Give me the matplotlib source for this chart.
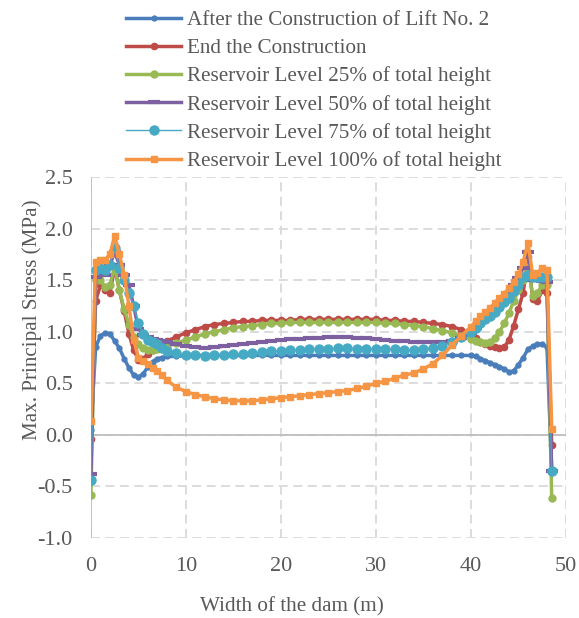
import matplotlib
matplotlib.use("Agg")
import matplotlib.pyplot as plt

plt.rcParams["font.family"] = ["Liberation Serif", "DejaVu Serif"]
plt.rcParams["axes.unicode_minus"] = False

# distance across the dam (m)
x = [0, 0.5, 1, 1.5, 2, 2.5, 3, 3.5, 4, 4.5, 5, 5.5, 6, 6.5, 7, 7.5, 8,
     9, 10, 11, 12, 13, 14, 15, 16, 17, 18, 19, 20, 21, 22, 23, 24,
     25, 26, 27, 28, 29, 30, 31, 32, 33, 34, 35, 36, 37, 38, 39,
     40, 40.5, 41, 41.5, 42, 42.5, 43, 43.5, 44, 44.5, 45, 45.5, 46,
     46.5, 47, 47.5, 48, 48.5]

lift2 = [0.05, 0.85, 0.96, 0.99, 0.98, 0.91, 0.84, 0.74, 0.65, 0.58, 0.56, 0.59, 0.66, 0.71, 0.74, 0.75, 0.76,
         0.76, 0.77, 0.77, 0.77, 0.77, 0.77, 0.77, 0.77, 0.77, 0.77, 0.77, 0.77, 0.77, 0.77, 0.77, 0.77,
         0.77, 0.77, 0.77, 0.77, 0.77, 0.77, 0.77, 0.77, 0.77, 0.77, 0.77, 0.77, 0.77, 0.77, 0.77,
         0.77, 0.76, 0.74, 0.72, 0.70, 0.68, 0.66, 0.64, 0.61, 0.62, 0.68, 0.75, 0.83,
         0.86, 0.88, 0.88, 0.85, -0.35]

end_constr = [-0.04, 1.30, 1.45, 1.40, 1.38, 1.62, 1.40, 1.20, 0.98, 0.82, 0.73, 0.74, 0.78, 0.82, 0.85, 0.88, 0.91,
              0.95, 0.99, 1.02, 1.05, 1.07, 1.08, 1.09, 1.10, 1.10, 1.11, 1.11, 1.11, 1.11, 1.12, 1.12, 1.12,
              1.12, 1.12, 1.12, 1.12, 1.12, 1.12, 1.11, 1.11, 1.10, 1.10, 1.09, 1.08, 1.07, 1.05, 1.02,
              0.98, 0.94, 0.90, 0.88, 0.86, 0.85, 0.84, 0.85, 0.92, 1.06, 1.22, 1.38, 1.72,
              1.32, 1.30, 1.40, 1.38, -0.10]

res25 = [-0.58, 1.50, 1.50, 1.43, 1.45, 1.63, 1.40, 1.22, 1.07, 0.95, 0.88, 0.84, 0.82, 0.82, 0.83, 0.84, 0.86,
         0.89, 0.92, 0.95, 0.98, 1.00, 1.02, 1.04, 1.05, 1.06, 1.07, 1.08, 1.08, 1.09, 1.09, 1.09, 1.09,
         1.09, 1.09, 1.09, 1.09, 1.09, 1.09, 1.08, 1.08, 1.07, 1.06, 1.05, 1.03, 1.01, 0.99, 0.96,
         0.93, 0.91, 0.90, 0.89, 0.90, 0.94, 1.00, 1.08, 1.18, 1.30, 1.40, 1.50, 1.63,
         1.35, 1.38, 1.45, 1.45, -0.61]

res50 = [-0.38, 1.53, 1.55, 1.55, 1.65, 1.77, 1.65, 1.55, 1.45, 1.25, 1.03, 0.97, 0.95, 0.93, 0.92, 0.91, 0.90,
         0.88, 0.86, 0.85, 0.84, 0.85, 0.86, 0.87, 0.88, 0.89, 0.90, 0.91, 0.92, 0.93, 0.93, 0.94, 0.94,
         0.95, 0.95, 0.95, 0.94, 0.94, 0.93, 0.92, 0.91, 0.91, 0.90, 0.90, 0.90, 0.90, 0.91, 0.94,
         0.99, 1.04, 1.09, 1.14, 1.18, 1.22, 1.27, 1.32, 1.38, 1.45, 1.52, 1.62, 1.77,
         1.50, 1.50, 1.49, 1.48, -0.35]

res75 = [-0.44, 1.60, 1.62, 1.60, 1.65, 1.81, 1.62, 1.50, 1.38, 1.25, 1.08, 0.98, 0.92, 0.90, 0.88, 0.84, 0.81,
         0.79, 0.77, 0.77, 0.76, 0.77, 0.77, 0.78, 0.78, 0.79, 0.80, 0.81, 0.81, 0.82, 0.82, 0.83, 0.83,
         0.83, 0.84, 0.84, 0.83, 0.83, 0.83, 0.83, 0.83, 0.82, 0.82, 0.83, 0.84, 0.86, 0.90, 0.95,
         1.00, 1.04, 1.08, 1.12, 1.15, 1.19, 1.24, 1.29, 1.33, 1.39, 1.45, 1.53, 1.55,
         1.53, 1.53, 1.53, 1.53, -0.35]

res100 = [0.13, 1.68, 1.70, 1.70, 1.75, 1.93, 1.75, 1.55, 1.25, 0.92, 0.75, 0.72, 0.69, 0.65, 0.62, 0.58, 0.53,
          0.46, 0.42, 0.39, 0.37, 0.35, 0.34, 0.33, 0.33, 0.33, 0.34, 0.35, 0.36, 0.37, 0.38, 0.39, 0.40,
          0.41, 0.42, 0.43, 0.45, 0.47, 0.50, 0.52, 0.55, 0.58, 0.60, 0.64, 0.69, 0.77, 0.87, 0.96,
          1.05, 1.10, 1.15, 1.19, 1.23, 1.28, 1.33, 1.37, 1.42, 1.48, 1.56, 1.68, 1.86,
          1.55, 1.57, 1.62, 1.60, 0.06]

fig = plt.figure(figsize=(5.79, 6.18), dpi=100)
ax = fig.add_axes([0.157, 0.1294, 0.8205, 0.5842])

ax.plot(x, lift2, color="#4A7EBB", lw=2.5, marker="o", ms=3.5,
        label="After the Construction of Lift No. 2")
ax.plot(x, end_constr, color="#BE4B48", lw=2.5, marker="o", ms=4.5,
        label="End the Construction")
ax.plot(x, res25, color="#98B954", lw=2.5, marker="o", ms=5,
        label="Reservoir Level 25% of total height")
ax.plot(x, res50, color="#7D60A0", lw=2.5, marker="_", ms=9, mew=3,
        label="Reservoir Level 50% of total height")
ax.plot(x, res75, color="#46AAC5", lw=1, marker="o", ms=6.5,
        label="Reservoir Level 75% of total height")
ax.plot(x, res100, color="#F69544", lw=2.5, marker="s", ms=4,
        label="Reservoir Level 100% of total height")

ax.set_xlim(0, 50)
ax.set_ylim(-1.0, 2.5)
ax.set_xticks([0, 10, 20, 30, 40, 50])
ax.set_yticks([-1.0, -0.5, 0.0, 0.5, 1.0, 1.5, 2.0, 2.5])
ax.set_yticklabels(["%.1f" % v for v in ax.get_yticks()])
ax.tick_params(length=0, labelsize=16, colors="#595959")
ax.tick_params(axis="x", pad=14)
ax.tick_params(axis="y", pad=13)
for s in ax.spines.values():
    s.set_visible(False)
ax.grid(True, color="#d9d9d9", ls=(0, (5, 3)), lw=1.3, zorder=0)
ax.set_axisbelow(True)
ax.axhline(0, color="#bfbfbf", lw=1.3, zorder=1)
ax.axvline(0, color="#bfbfbf", lw=1.3, zorder=1)

ax.set_xlabel("Width of the dam (m)", fontsize=15.2, color="#595959", va="top")
ax.set_ylabel("Max. Principal Stress (MPa)", fontsize=15.2, color="#595959")
ax.xaxis.set_label_coords(0.423, -0.163)
ax.yaxis.set_label_coords(-0.103, 0.604)

fig.legend(loc="upper left", bbox_to_anchor=(0.2, 1.0), frameon=False, borderpad=0,
           fontsize=15.2, handlelength=2.6, handletextpad=0.25, labelspacing=0.39,
           labelcolor="#595959")

fig.savefig("out.png", dpi=100)
